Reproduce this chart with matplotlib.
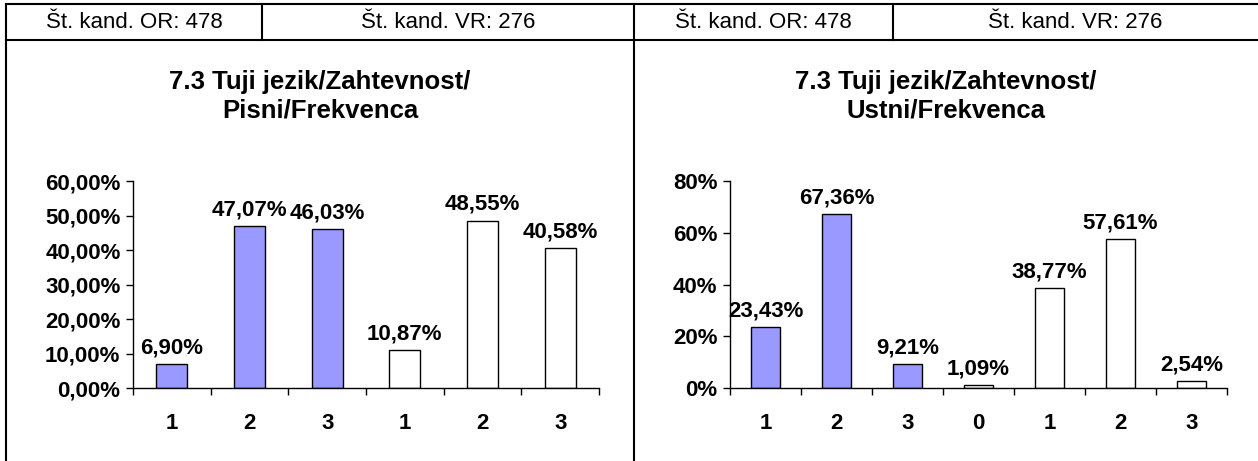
import numpy as np
import matplotlib
matplotlib.use("Agg")
import matplotlib.pyplot as plt
from matplotlib.lines import Line2D
from matplotlib.ticker import FixedLocator, FuncFormatter

plt.rcParams['font.family'] = ['Liberation Sans', 'DejaVu Sans']

# podatki
header_texts = ["Št. kand. OR: 478", "Št. kand. VR: 276"]
title_left = "7.3 Tuji jezik/Zahtevnost/\nPisni/Frekvenca"
title_right = "7.3 Tuji jezik/Zahtevnost/\nUstni/Frekvenca"

cats_left = ['1', '2', '3', '1', '2', '3']
left_or = [6.90, 47.07, 46.03]
left_vr = [10.87, 48.55, 40.58]

cats_right = ['1', '2', '3', '0', '1', '2', '3']
right_or = [23.43, 67.36, 9.21]
right_vr = [1.09, 38.77, 57.61, 2.54]

W, H = 1258, 461
fig = plt.figure(figsize=(W / 100, H / 100), dpi=100)


def px_line(x0, y0, x1, y1):
    fig.add_artist(Line2D([x0 / W, x1 / W], [1 - y0 / H, 1 - y1 / H],
                          color='black', lw=1.5, transform=fig.transFigure))


# okvir tabele
px_line(6, 4, W, 4)
px_line(6, 40, W, 40)
px_line(6, 4, 6, H)
px_line(634, 4, 634, H)
px_line(262, 4, 262, 40)
px_line(893, 4, 893, 40)

# glava
for xc, txt in zip([134, 448, 763, 1075], header_texts * 2):
    fig.text(xc / W, 1 - 22 / H, txt, ha='center', va='center', fontsize=16)

fig.text(320 / W, 1 - 96 / H, title_left, ha='center', va='center',
         fontsize=18.5, fontweight='bold', linespacing=1.25)
fig.text(946 / W, 1 - 96 / H, title_right, ha='center', va='center',
         fontsize=18.5, fontweight='bold', linespacing=1.25)


def draw(ax, cats, or_vals, vr_vals, ymax, step, fmt):
    vals = np.array(or_vals + vr_vals) / 100
    colors = ['#9999FF'] * len(or_vals) + ['white'] * len(vr_vals)
    x = np.arange(len(cats))
    bars = ax.bar(x, vals, width=0.4, color=colors, edgecolor='black', linewidth=1)
    for b, v in zip(bars, vals):
        ax.annotate(f"{v * 100:.2f}%".replace('.', ','),
                    (b.get_x() + b.get_width() / 2, v),
                    xytext=(0, 4), textcoords='offset points',
                    ha='center', va='bottom', fontsize=16, fontweight='bold')
    ax.set_xlim(-0.5, len(cats) - 0.5)
    ax.set_ylim(0, ymax)
    ax.set_yticks(np.arange(0, ymax + step / 2, step))
    ax.yaxis.set_major_formatter(FuncFormatter(fmt))
    ax.xaxis.set_major_locator(FixedLocator(np.arange(-0.5, len(cats), 1)))
    ax.xaxis.set_minor_locator(FixedLocator(x))
    ax.set_xticklabels([], minor=False)
    ax.set_xticklabels(cats, minor=True)
    ax.tick_params(axis='x', which='major', length=5, width=1, direction='out')
    ax.tick_params(axis='x', which='minor', length=0, pad=18, labelsize=16)
    ax.tick_params(axis='y', length=5, width=1, labelsize=16, pad=4)
    for lab in ax.get_xticklabels(minor=True) + ax.get_yticklabels():
        lab.set_fontweight('bold')
    for s in ['top', 'right']:
        ax.spines[s].set_visible(False)
    for s in ['left', 'bottom']:
        ax.spines[s].set_linewidth(1)


bottom = 1 - 388 / H
height = (388 - 181) / H
ax1 = fig.add_axes([133 / W, bottom, 466 / W, height])
draw(ax1, cats_left, left_or, left_vr, 0.6, 0.1,
     lambda v, p: f"{v * 100:.2f}%".replace('.', ','))

ax2 = fig.add_axes([730 / W, bottom, 497 / W, height])
draw(ax2, cats_right, right_or, right_vr, 0.8, 0.2,
     lambda v, p: f"{v * 100:.0f}%")

fig.savefig("out.png", dpi=100)
